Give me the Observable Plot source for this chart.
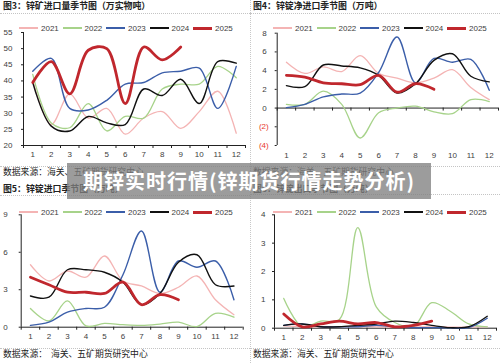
<!DOCTYPE html>
<html><head><meta charset="utf-8">
<script src="https://cdn.jsdelivr.net/npm/d3@7"></script>
<script src="https://cdn.jsdelivr.net/npm/@observablehq/plot@0.6"></script>
<style>
html,body{margin:0;padding:0;background:#fff;}
#root{position:relative;width:500px;height:363px;overflow:hidden;font-family:"Noto Sans CJK SC","Liberation Sans",sans-serif;}
.panel{position:absolute;width:250px;height:182px;}
.title{position:absolute;left:3px;font-size:8.9px;font-weight:700;color:#222;white-space:nowrap;line-height:12px;}
.sep{position:absolute;left:0;width:250px;border-top:1px dotted #c4c4c4;height:0;}
.legend{position:absolute;left:0;width:250px;height:10px;font-family:"Liberation Sans",Arial,sans-serif;font-size:8px;color:#404040;z-index:2;}
.item{position:absolute;top:0;white-space:nowrap;display:flex;align-items:center;height:10px;}
.sw{display:inline-block;width:19px;margin-right:3px;}
.src{position:absolute;left:3px;font-size:8.8px;color:#222;white-space:pre;line-height:10px;}
.panel svg{position:absolute;left:0;top:20px;}
#banner{position:absolute;left:67px;top:163px;width:364px;height:36px;background:rgba(128,128,128,0.78);color:#fff;font-family:"Noto Sans CJK SC",sans-serif;font-weight:700;font-size:20px;line-height:36px;text-align:center;letter-spacing:1px;z-index:5;white-space:nowrap;}
#vsep{position:absolute;left:250px;top:0;height:363px;border-left:1px dotted #c8c8c8;}
</style></head>
<body>
<div id="root"><div id="vsep"></div></div>
<script>
// ---------- data ----------
const months = [1,2,3,4,5,6,7,8,9,10,11,12];
const years = ["2021","2022","2023","2024","2025"];
const yearColors = ["#f4b4b4","#a7d38a","#3b5ea9","#111111","#c0272d"];
const yearWidths = [1.3,1.3,1.4,1.4,2.8];

// 图3 锌矿进口量（万实物吨）
const ore2021 = [40, 26.5, 36, 28.5, 31.5, 23.5, 28.5, 30.5, 25.3, 30.5, 36.8, 23.8];
const ore2022 = [42, 27, 25.5, 33, 24.5, 29, 28.5, 37.5, 39, 39, 44.5, 41];
const ore2023 = [43, 47, 31.5, 31, 34, 39, 39.5, 42.5, 43, 44, 31.5, 44.5];
const ore2024 = [39.5, 26, 24.5, 29, 27, 26.5, 37.5, 35.5, 40.5, 33, 46, 45.5];
const ore2025 = [39.5, 46, 36, 49.5, 50, 33, 50.5, 46.5, 50.5];
const oreTicks = [20,25,30,35,40,45,50,55];

// 图4 锌锭净进口（万吨）
const net2021 = [4.9, 3.7, 4.4, 3.9, 5.6, 3.7, 3.2, 2.7, 3.2, 4.1, 2.2, 0.9];
const net2022 = [0.4, 0.4, 1.8, 0.4, -3.2, -0.5, 0, 0.2, -0.4, -0.6, 0.9, 0.7];
const net2023 = [0.05, 0.4, 1.2, 1.5, 1.6, 3.8, 7.6, 2.7, 5.3, 4.9, 5.2, 1.9];
const net2024 = [2.4, 2.3, 4.6, 4.5, 4.3, 3.5, 1.6, 2.6, 5.1, 5.8, 3.4, 2.8];
const net2025 = [3.5, 3.3, 2.7, 2.6, 2.5, 3.5, 1.7, 2.6, 2.0];
const netTicksPos = [0,2,4,6,8];
const netTicksNeg = [-2,-4];

// 图5 锌锭进口（万吨）
const imp2021 = [5.0, 3.7, 4.5, 4.0, 5.7, 3.7, 3.3, 2.7, 3.2, 4.1, 2.2, 1.0];
const imp2022 = [1.5, 0.5, 2.1, 0.1, 0.3, 0.2, 0.15, 0.25, 0.4, 0.05, 1.1, 0.8];
const imp2023 = [0.15, 0.4, 1.2, 1.5, 1.6, 4.2, 7.7, 2.8, 5.3, 4.8, 5.3, 2.2];
const imp2024 = [2.5, 2.4, 4.6, 4.6, 4.4, 3.6, 1.8, 2.7, 5.2, 5.8, 3.4, 3.3];
const imp2025 = [4.0, 3.4, 2.8, 2.8, 2.7, 3.6, 1.8, 2.6, 2.2];
const impTicks = [0,3,6,9];

// 图6 锌锭出口（万吨）
const exp2021 = [0.08, 0.06, 0.05, 0.05, 0.06, 0.05, 0.04, 0.04, 0.05, 0.04, 0.04, 0.05];
const exp2022 = [1.05, 0.05, 0.25, 0.3, 3.55, 0.75, 0.2, 0.05, 0.9, 0.6, 0.15, 0.05];
const exp2023 = [0.1, 0.15, 0.05, 0.05, 0.05, 0.1, 0.05, 0.02, 0.02, 0.01, 0.02, 0.35];
const exp2024 = [0.1, 0.15, 0.05, 0.05, 0.1, 0.15, 0.25, 0.2, 0.1, 0.02, 0.05, 0.42];
const exp2025 = [0.5, 0.05, 0.15, 0.25, 0.15, 0.2, 0.05, 0.1, 0.25];
const expTicks = [0,1,2,3,4];

const titles = ["图3：锌矿进口量季节图（万实物吨）","图4：锌锭净进口季节图（万吨）","图5：锌锭进口季节图（万吨）","图6：锌锭出口季节图（万吨）"];
const sources = ["数据来源：海关、五矿期货研究中心","数据来源：海关、五矿期货研究中心","数据来源：  海关、五矿期货研究中心","数据来源：海关、五矿期货研究中心"];
const bannerText = "期锌实时行情(锌期货行情走势分析)";

// ---------- drawing ----------
const axisColor = "#222";
const labelColor = "#404040";
const bounds = d3.range(0.5, 13, 1);

function makeChart(o) {
  const rows = years.map((yr, i) => o.series[i].map((v, j) => ({year: yr, month: months[j], value: v})));
  const plotH = o.height - o.mt - o.mb;
  const marks = [
    Plot.ruleX([0.5], {y1: o.yDomain[0], y2: o.yDomain[1], stroke: axisColor}),
    Plot.ruleY([o.baseline], {x1: 0.5, x2: 12.5, stroke: axisColor}),
    Plot.axisY({ticks: o.yTicks, tickSize: 2, tickPadding: o.yPad, stroke: axisColor, fill: labelColor, tickFormat: d => String(d)}),
    Plot.axisX({ticks: months, tickSize: 0, tickPadding: o.xPad, fill: labelColor, tickFormat: d => String(d)})
  ];
  if (o.yTicksNeg) {
    marks.push(Plot.axisY({ticks: o.yTicksNeg, tickSize: 2, tickPadding: o.yPad - 2, stroke: axisColor, fill: "#e8372c", tickFormat: d => `(${-d})`}));
  }
  if (o.baseline === o.yDomain[0]) {
    marks.push(Plot.axisX({ticks: bounds, tickSize: 3, tickFormat: () => "", stroke: axisColor}));
  } else {
    const len = 3 * (o.yDomain[1] - o.yDomain[0]) / plotH;
    marks.push(Plot.ruleX(bounds, {x: d => d, y1: o.baseline, y2: o.baseline - len, stroke: axisColor}));
  }
  rows.forEach((r, i) => marks.push(Plot.line(r, {x: "month", y: "value", stroke: yearColors[i], strokeWidth: yearWidths[i], curve: "catmull-rom"})));
  return Plot.plot({
    width: 250, height: o.height,
    marginTop: o.mt, marginBottom: o.mb, marginLeft: o.ml, marginRight: o.mr,
    x: {domain: [0.5, 12.5], label: null},
    y: {domain: o.yDomain, label: null},
    style: {fontFamily: "'Liberation Sans', Arial, sans-serif", fontSize: "8px", color: labelColor, background: "transparent", overflow: "visible"},
    marks
  });
}

const root = document.getElementById("root");
const panels = [
  {left: 0, top: 0, titleTop: 0, sepTop: 13, legTop: 23, legLeft: 19, srcSep: 166, srcTop: 167,
   chart: {series: [ore2021, ore2022, ore2023, ore2024, ore2025], yDomain: [20, 55], yTicks: oreTicks, baseline: 20,
            height: 145, mt: 12, mb: 20, ml: 23, mr: 5, yPad: 9, xPad: 6}},
  {left: 250, top: 0, titleTop: 0, sepTop: 13, legTop: 23, legLeft: 23, srcSep: 166, srcTop: 167,
   chart: {series: [net2021, net2022, net2023, net2024, net2025], yDomain: [-4, 8], yTicks: netTicksPos, yTicksNeg: netTicksNeg, baseline: 0,
            height: 145, mt: 12.7, mb: 20, ml: 26.7, mr: 2, yPad: 8.5, xPad: 7}},
  {left: 0, top: 180, titleTop: 3, sepTop: 15, legTop: 27, legLeft: 19, srcSep: 168, srcTop: 169,
   chart: {series: [imp2021, imp2022, imp2023, imp2024, imp2025], yDomain: [0, 9], yTicks: impTicks, baseline: 0,
            height: 145, mt: 14.3, mb: 18.3, ml: 20.7, mr: 7.3, yPad: 11.5, xPad: 6}},
  {left: 250, top: 180, titleTop: 3, sepTop: 14, legTop: 27, legLeft: 23, srcSep: 168, srcTop: 169,
   chart: {series: [exp2021, exp2022, exp2023, exp2024, exp2025], yDomain: [0, 4], yTicks: expTicks, baseline: 0,
            height: 145, mt: 14.3, mb: 17.3, ml: 24, mr: 4, yPad: 7, xPad: 6}}
];

panels.forEach((p, k) => {
  const div = document.createElement("div");
  div.className = "panel";
  div.style.left = p.left + "px";
  div.style.top = p.top + "px";
  const t = document.createElement("div");
  t.className = "title"; t.style.top = p.titleTop + "px"; t.textContent = titles[k];
  div.appendChild(t);
  const s1 = document.createElement("div"); s1.className = "sep"; s1.style.top = p.sepTop + "px"; div.appendChild(s1);
  const s2 = document.createElement("div"); s2.className = "sep"; s2.style.top = p.srcSep + "px"; div.appendChild(s2);
  div.appendChild(makeChart(p.chart));
  const leg = document.createElement("div");
  leg.className = "legend"; leg.style.top = p.legTop + "px";
  years.forEach((yr, i) => {
    const it = document.createElement("div");
    it.className = "item"; it.style.left = (p.legLeft + i * 43.5) + "px";
    const sw = document.createElement("span");
    sw.className = "sw"; sw.style.background = yearColors[i]; sw.style.height = (i === 4 ? 3 : 2) + "px";
    it.appendChild(sw);
    it.appendChild(document.createTextNode(yr));
    leg.appendChild(it);
  });
  div.appendChild(leg);
  const src = document.createElement("div");
  src.className = "src"; src.style.top = p.srcTop + "px"; src.textContent = sources[k];
  div.appendChild(src);
  root.appendChild(div);
});

const banner = document.createElement("div");
banner.id = "banner"; banner.textContent = bannerText;
root.appendChild(banner);
</script>
</body></html>
